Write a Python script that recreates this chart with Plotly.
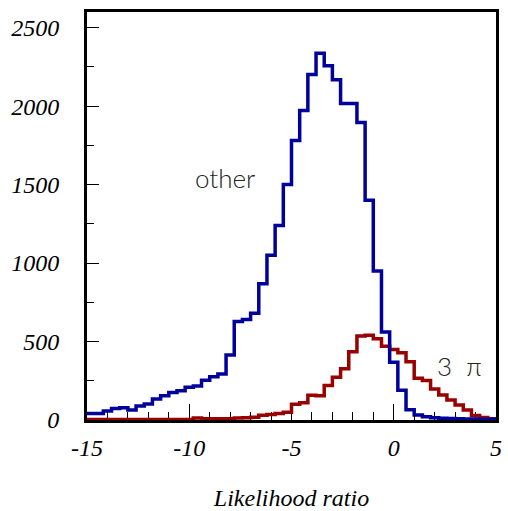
import plotly.graph_objects as go

# Histogram: 50 bins of width 0.4 from -15 to 5
bin_start = -15.0
bin_width = 0.4
n_bins = 50

other_counts = [42, 42, 57, 74, 78, 64, 89, 102, 134, 155,
                176, 187, 208, 216, 254, 275, 293, 415, 628, 640,
                680, 868, 1050, 1240, 1500, 1781, 1972, 2201, 2337, 2258,
                2169, 2017, 2017, 1896, 1400, 950, 560, 368, 189, 66,
                32, 20, 14, 11, 9, 8, 7, 6, 5, 4]

three_pi_counts = [3, 3, 3, 3, 3, 3, 3, 3, 3, 3,
                   3, 3, 3, 12, 8, 8, 8, 8, 12, 15,
                   18, 30, 35, 42, 50, 100, 110, 157, 155, 220,
                   272, 326, 435, 535, 540, 518, 470, 450, 428, 371,
                   266, 251, 198, 159, 127, 95, 64, 28, 16, 8]

x_ticks = [-15, -10, -5, 0, 5]
y_ticks = [0, 500, 1000, 1500, 2000, 2500]

edges = [bin_start + i * bin_width for i in range(n_bins + 1)]

fig = go.Figure()
fig.add_trace(go.Scatter(x=edges, y=three_pi_counts + [three_pi_counts[-1]],
                         mode="lines", line=dict(shape="hv", color="#990000", width=3.5),
                         showlegend=False, hoverinfo="skip"))
fig.add_trace(go.Scatter(x=edges, y=other_counts + [other_counts[-1]],
                         mode="lines", line=dict(shape="hv", color="#00009a", width=3.5),
                         showlegend=False, hoverinfo="skip"))

tick_font = dict(family="Liberation Serif", size=24, color="black", style="italic")

fig.update_xaxes(range=[-15, 5], tickvals=x_ticks, ticktext=["<i>%d</i>" % v for v in x_ticks],
                 ticks="inside", ticklen=16, tickwidth=1, tickcolor="black",
                 minor=dict(dtick=1, ticks="inside", ticklen=8, tickwidth=1, tickcolor="black"),
                 showline=True, linewidth=3, linecolor="black", mirror=True,
                 showgrid=False, zeroline=False, tickfont=tick_font, automargin=False,
                 ticklabelstandoff=4, layer="below traces",
                 title=dict(text="<i>Likelihood ratio</i>",
                            font=dict(family="Liberation Serif", size=24, color="black", style="italic"),
                            standoff=38))
fig.update_yaxes(range=[0, 2600], tickvals=y_ticks, ticktext=["<i>%d</i>" % v for v in y_ticks],
                 ticks="inside", ticklen=12, tickwidth=1, tickcolor="black",
                 minor=dict(dtick=250, ticks="inside", ticklen=7, tickwidth=1, tickcolor="black"),
                 showline=True, linewidth=3, linecolor="black", mirror=True,
                 showgrid=False, zeroline=False, tickfont=tick_font, automargin=False,
                 ticklabelstandoff=20, layer="below traces")

label_font = dict(family="Lato", size=26, color="#222222", weight=300)
fig.add_annotation(x=-8.25, y=1540, text="other", showarrow=False, font=label_font)
fig.add_annotation(x=3.2, y=345, text="3  π", showarrow=False, font=label_font)

fig.update_layout(width=508, height=511, margin=dict(l=87, r=12, t=12, b=91),
                  plot_bgcolor="white", paper_bgcolor="white")

fig.write_html("out.html")
